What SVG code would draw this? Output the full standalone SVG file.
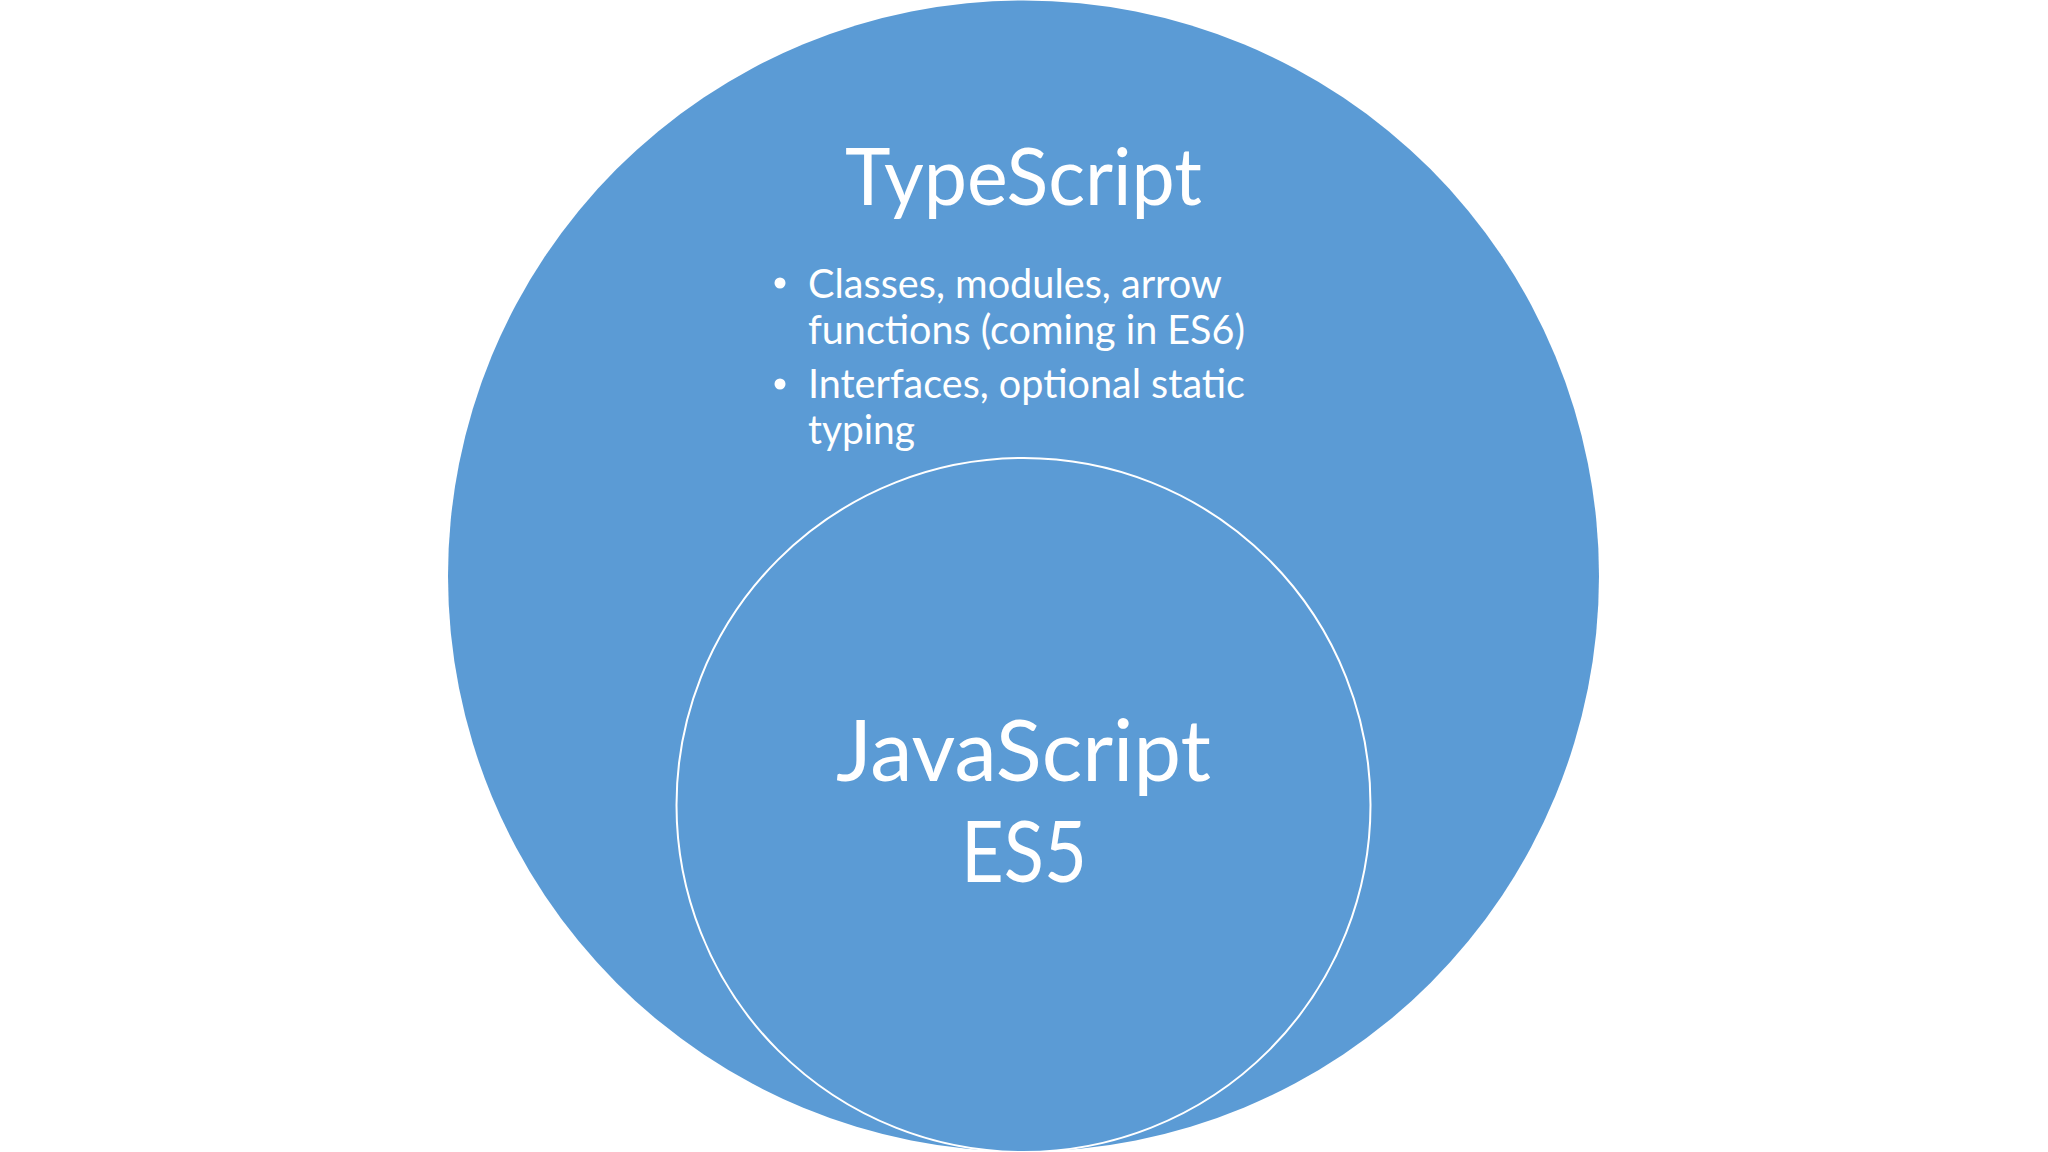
<svg xmlns="http://www.w3.org/2000/svg" width="2048" height="1152" viewBox="0 0 2048 1152">
<style>
.t{fill:#ffffff;font-family:Lato,"Open Sans","Liberation Sans",sans-serif;}
.title{font-size:80px;}
.bul{font-size:40px;}
.big{font-size:86px;}
</style>
<rect width="2048" height="1152" fill="#ffffff"/>
<g id="typescript">
<circle cx="1023.5" cy="576" r="575.5" fill="#5B9BD5"/>
<text class="t title" x="1023.5" y="205" text-anchor="middle" textLength="357" lengthAdjust="spacingAndGlyphs">TypeScript</text>
<circle cx="780" cy="283" r="5.5" fill="#ffffff"/>
<circle cx="780" cy="384" r="5.5" fill="#ffffff"/>
<text class="t bul" x="808" y="298" textLength="414" lengthAdjust="spacingAndGlyphs">Classes, modules, arrow</text>
<text class="t bul" x="808" y="344" textLength="437" lengthAdjust="spacingAndGlyphs">functions (coming in ES6)</text>
<text class="t bul" x="808" y="398" textLength="437" lengthAdjust="spacingAndGlyphs">Interfaces, optional static</text>
<text class="t bul" x="808" y="444" textLength="107" lengthAdjust="spacingAndGlyphs">typing</text>
</g>
<g id="javascript">
<circle cx="1023.5" cy="805" r="347" fill="#5B9BD5" stroke="#ffffff" stroke-width="2"/>
<text class="t big" x="1023.5" y="781" text-anchor="middle" textLength="375" lengthAdjust="spacingAndGlyphs">JavaScript</text>
<text class="t big" x="1024" y="882" text-anchor="middle" textLength="126" lengthAdjust="spacingAndGlyphs">ES5</text>
</g>
<g id="connectors"></g>
</svg>
